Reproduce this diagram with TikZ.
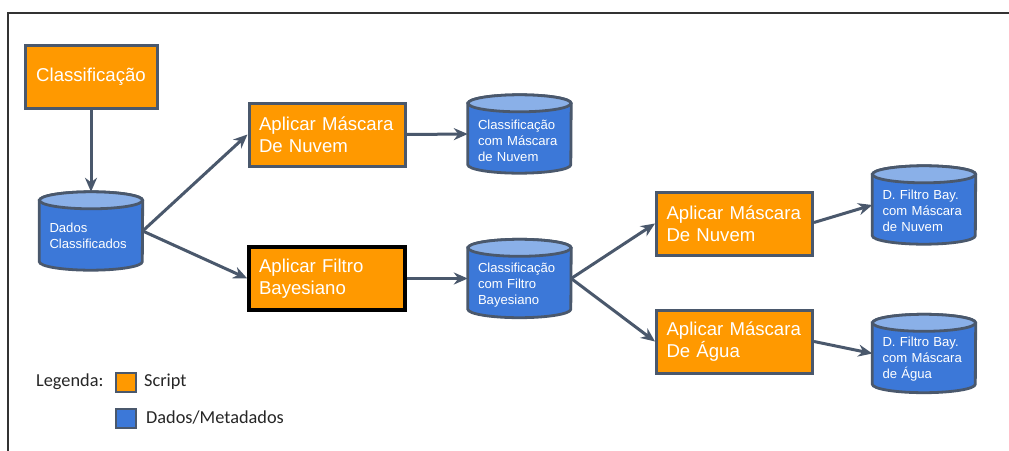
\documentclass[tikz,border=0pt]{standalone}
\usepackage{fontspec}
\setmainfont{Liberation Sans}
\newfontfamily\legfont{Carlito}
\usetikzlibrary{arrows.meta}
\definecolor{slate}{RGB}{74,88,108}
\definecolor{orng}{RGB}{255,153,0}
\definecolor{cblue}{RGB}{60,120,216}
\definecolor{ctop}{RGB}{138,176,232}
\tikzset{
  scriptbox/.style={draw=slate, line width=3pt, fill=orng, text=white, minimum width=156pt, minimum height=63pt, inner sep=0pt, text width=136pt, align=left, font=\fontsize{18.6}{22}\selectfont},
  cylshape/.style={draw=none, minimum width=103pt, minimum height=78pt, inner sep=0pt},
  cyltext/.style={text=white, text width=83pt, align=left, inner sep=0pt, font=\fontsize{13.1}{16}\selectfont},
  conn/.style={draw=slate, line width=3pt, -{Stealth[length=14pt,width=12pt,inset=4.5pt]}},
  legsq/.style={draw=slate, line width=1.6pt, minimum width=20pt, minimum height=19pt, inner sep=0pt},
  legtext/.style={font=\legfont\fontsize{18.3}{20}\selectfont, anchor=west, inner sep=0pt, text=black!85}
}
\newcommand\cylnode[4]{%
  \node[cylshape] (#1) at (#2) {};
  \path[fill=cblue, draw=slate, line width=2.8pt]
    ([yshift=-8.5pt]#1.north west) -- ([yshift=8.5pt]#1.south west)
    arc[start angle=180, end angle=360, x radius=51.5pt, y radius=8.5pt]
    -- ([yshift=-8.5pt]#1.north east)
    arc[start angle=0, end angle=180, x radius=51.5pt, y radius=8.5pt] -- cycle;
  \path[fill=ctop, draw=slate, line width=2.8pt] ([yshift=-8.5pt]#1.north) ellipse[x radius=51.5pt, y radius=8.5pt];
  \node[cyltext] (#1-t) at ([yshift=#3]#1.center) {#4};
}
\begin{document}
\begin{tikzpicture}[x=1pt, y=-1pt]
\useasboundingbox (0,0) rectangle (1009,450);
\fill[white] (0,0) rectangle (1009,450);
\draw[black!80, line width=2pt] (8,451) -- (8,13) -- (1010,13);

\node[scriptbox, minimum width=132pt, text width=112pt, align=center] (cls) at (91,76.5) {Classificação};
\node[scriptbox] (amn1) at (327,134.5) {Aplicar Máscara\\De Nuvem};
\node[scriptbox, draw=black, line width=3.4pt] (afb) at (327,278.5) {Aplicar Filtro\\Bayesiano};
\node[scriptbox] (amn2) at (734.5,223.5) {Aplicar Máscara\\De Nuvem};
\node[scriptbox] (ama) at (734.5,341.5) {Aplicar Máscara\\De Água};

\cylnode{dc}{91,231}{-5pt}{Dados\\Classificados}
\cylnode{c1}{519.5,134}{-7pt}{Classificação\\com Máscara\\de Nuvem}
\cylnode{c2}{519.5,278.5}{-7pt}{Classificação\\com Filtro\\Bayesiano}
\cylnode{c3}{924,205}{-6pt}{D. Filtro Bay.\\com Máscara\\de Nuvem}
\cylnode{c4}{924,353.5}{-6pt}{D. Filtro Bay.\\com Máscara\\de Água}

\draw[conn] (cls.south) -- (dc.north);
\draw[conn] (dc.east) -- (amn1.west);
\draw[conn] (dc.east) -- (afb.west);
\draw[conn] (amn1.east) -- (c1.west);
\draw[conn] (afb.east) -- (c2.west);
\draw[conn] (c2.east) -- (amn2.west);
\draw[conn] (c2.east) -- (ama.west);
\draw[conn] ([yshift=1pt]amn2.east) -- (c3.west);
\draw[conn] (ama.east) -- (c4.west);

\node[legtext] (leg) at (36,382) {Legenda:};
\node[legsq, fill=orng] (lsq1) at (126,382.5) {};
\node[legtext] (ls1) at (144,382) {Script};
\node[legsq, fill=cblue] (lsq2) at (126,418.5) {};
\node[legtext] (ls2) at (146,418) {Dados/Metadados};
\end{tikzpicture}
\end{document}
